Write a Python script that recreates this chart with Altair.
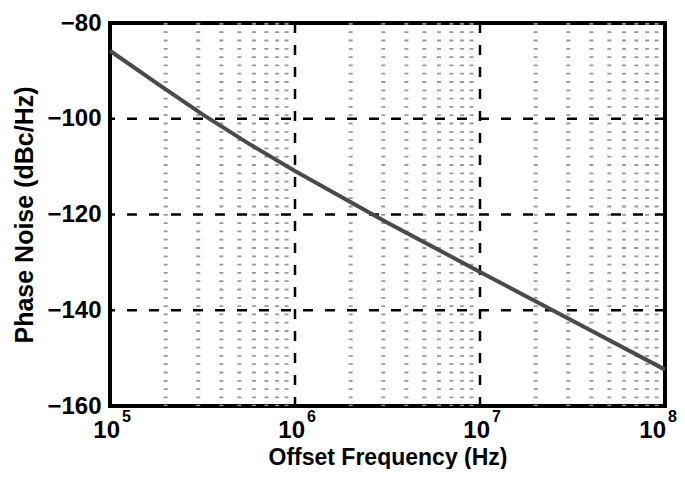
import altair as alt
import pandas as pd

# ---- data ----
freq = [1e5, 1.778e5, 3.162e5, 5.623e5, 1e6, 3.162e6, 1e7, 3.162e7, 1e8]
noise = [-85.8, -92.5, -99.1, -105.2, -110.9, -121.7, -132.0, -142.2, -152.4]
major_x = [1e6, 1e7]
minor_x = [m * 10 ** d for d in (5, 6, 7) for m in range(2, 10)]
major_y = [-100, -120, -140]
y_ticks = [-160, -140, -120, -100, -80]
x_label_pos = [1e5, 1e6, 1e7, 1e8]
x_label_base = ["10", "10", "10", "10"]
x_label_exp = ["5", "6", "7", "8"]

W, H = 555, 383
FONT = "Liberation Sans"

xs = alt.Scale(type="log", domain=[1e5, 1e8], nice=False)
ys = alt.Scale(domain=[-160, -80], nice=False, zero=False)

x_axis = alt.Axis(
    title="Offset Frequency (Hz)", labels=False, ticks=False, grid=False, domain=False,
    titleFont=FONT, titleFontSize=23, titleFontWeight="bold", titleColor="black",
    titleY=58.5, titleBaseline="alphabetic",
)
y_axis = alt.Axis(
    values=y_ticks, title="Phase Noise (dBc/Hz)", ticks=False, grid=False, domain=False,
    labelFont=FONT, labelFontSize=24, labelFontWeight="bold", labelColor="black",
    labelPadding=9,
    titleFont=FONT, titleFontSize=25, titleFontWeight="bold", titleColor="black",
    titleX=-78, titleY=H / 2, titleBaseline="alphabetic", titleAngle=270,
)

line_df = pd.DataFrame({"f": freq, "pn": noise})
minor_df = pd.DataFrame({"f": minor_x})
majx_df = pd.DataFrame({"f": major_x})
majy_df = pd.DataFrame({"v": major_y})
lab_df = pd.DataFrame({"f": x_label_pos, "b": x_label_base, "e": x_label_exp})

minor = alt.Chart(minor_df).mark_rule(
    color="#999999", strokeWidth=4, strokeDash=[1.8, 6.5]
).encode(x=alt.X("f:Q", scale=xs, axis=x_axis))

major_v = alt.Chart(majx_df).mark_rule(
    color="black", strokeWidth=2.5, strokeDash=[10, 12]
).encode(x=alt.X("f:Q", scale=xs))

major_h = alt.Chart(majy_df).mark_rule(
    color="black", strokeWidth=2.5, strokeDash=[10, 12]
).encode(y=alt.Y("v:Q", scale=ys, axis=y_axis))

curve = alt.Chart(line_df).mark_line(
    color="#4a4a4a", strokeWidth=4
).encode(
    x=alt.X("f:Q", scale=xs),
    y=alt.Y("pn:Q", scale=ys),
)

inner = alt.datum.f < 5e7
last = alt.datum.f >= 5e7


def labels(flt, shift):
    b = alt.Chart(lab_df).transform_filter(flt).mark_text(
        font=FONT, fontSize=24, fontWeight="bold", color="black",
        align="right", baseline="alphabetic", dx=10 + shift, dy=32,
    ).encode(x=alt.X("f:Q", scale=xs), y=alt.datum(-160), text="b:N")
    e = alt.Chart(lab_df).transform_filter(flt).mark_text(
        font=FONT, fontSize=16, fontWeight="bold", color="black",
        align="left", baseline="alphabetic", dx=12 + shift, dy=16,
    ).encode(x=alt.X("f:Q", scale=xs), y=alt.datum(-160), text="e:N")
    return [b, e]


chart = alt.layer(
    minor, major_v, major_h, curve, *labels(inner, 0), *labels(last, -9)
).properties(
    width=W, height=H,
    background="white",
    padding={"left": 102, "top": 15, "right": 12, "bottom": 63},
    autosize=alt.AutoSizeParams(type="none"),
).configure_view(stroke="black", strokeWidth=4)

chart.save("out.html", embed_options={"renderer": "svg", "actions": False})
